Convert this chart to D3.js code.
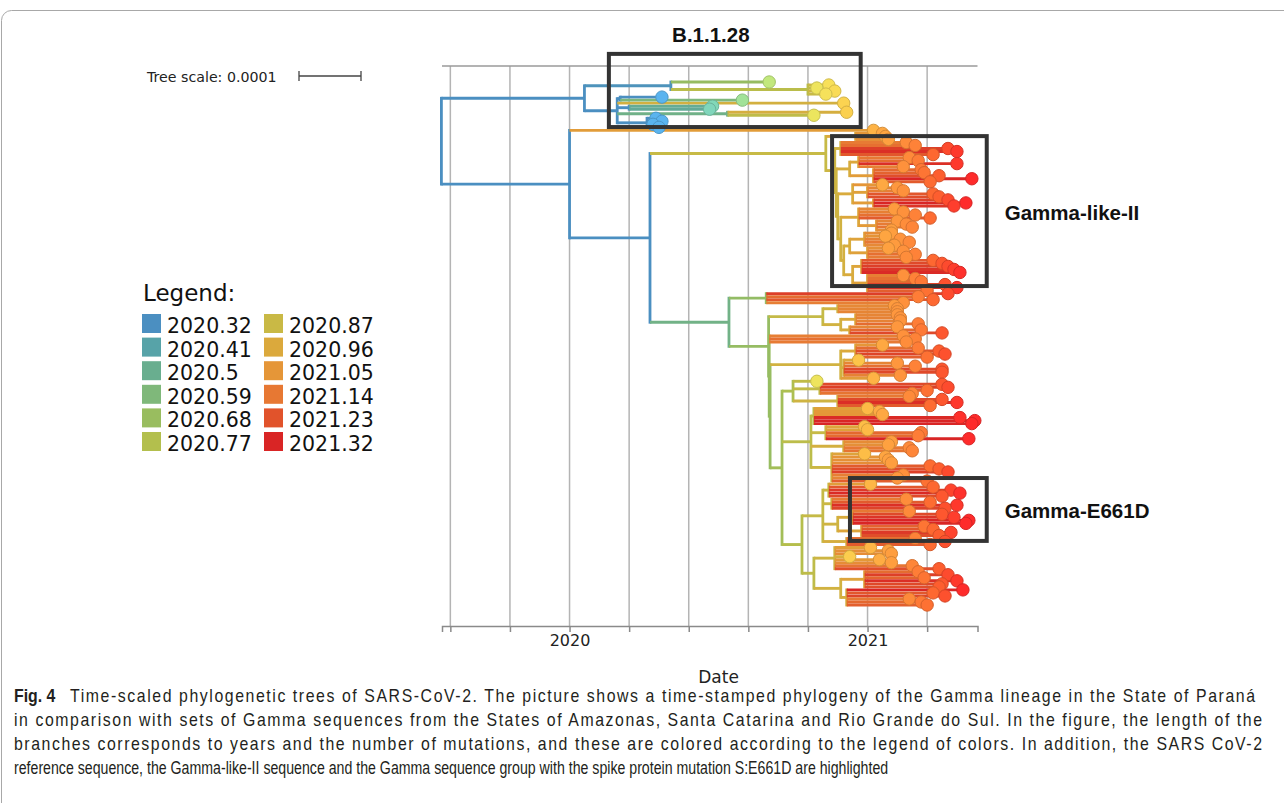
<!DOCTYPE html>
<html>
<head>
<meta charset="utf-8">
<script src="https://cdn.jsdelivr.net/npm/d3@7"></script>
<style>
body { margin: 0; background: #fff; }
svg { display: block; font-family: "DejaVu Sans", sans-serif; }
.caption { font-family: "Liberation Sans", Arial, sans-serif; font-size: 17.5px; fill: #231f20; }
</style>
</head>
<body>
<svg id="chart" width="1284" height="803"></svg>
<script>
// colour legend (dates and colours of the branches / tips)
var legendDates = [2020.32, 2020.41, 2020.5, 2020.59, 2020.68, 2020.77, 2020.87, 2020.96, 2021.05, 2021.14, 2021.23, 2021.32];
var branchColors = ["#4b8fc1", "#57a3a8", "#69ae8f", "#7fb87a", "#99bd5f", "#b3bf4d", "#c9b945", "#dba93c", "#e59638", "#e77833", "#e1532b", "#d92525"];
var tipColors = ["#5ab4ef", "#6fcad2", "#88dcb0", "#a4e396", "#c6e97a", "#e0ea62", "#f8e05a", "#fdc84a", "#fea842", "#fe8a3a", "#fd6430", "#fe2b2b"];

// time axis
var dateDomain = [2019.572, 2021.369];
var gridYears = [2019.6, 2019.8, 2020.0, 2020.2, 2020.4, 2020.6, 2020.8, 2021.0, 2021.2];
var labelYears = [2020, 2021];

// tree: a tip is its date, an internal node is [date, child, child, ...]
var cladeB11128 = [2020.05,
  [2020.34, 2020.67, [2020.80, 2020.87, 2020.83, 2020.89, 2020.86]],
  [2020.16,
    [2020.17, 2020.31, 2020.58],
    2020.92,
    [2020.20, 2020.48, 2020.47],
    [2020.53, 2020.93, 2020.82],
    [2020.26, 2020.29, 2020.31, 2020.28, 2020.30]]];

var gammaTop = [2020.96, 2021.05, 2021.06, 2021.07];
var gammaS1 = [2020.91, 2021.13, 2021.16, 2021.27, 2021.30, 2021.22];
var gammaS2 = [2020.94, [2020.97, 2021.14, 2021.17, 2021.30, 2021.12], [2021.02, 2021.18, 2021.19, 2021.24, 2021.35, 2021.21]];
var gammaS3 = [2020.95, 2021.05, [2021.0, 2021.10, 2021.12, 2021.22, 2021.24], [2021.02, 2021.27, 2021.33, 2021.29]];
var gammaS4 = [2020.97, 2021.09, 2021.12, 2021.16, 2021.21, [2021.03, 2021.10, 2021.13, 2021.15, 2021.08]];
var gammaS5 = [2020.94, [2020.99, 2021.08, 2021.06, 2021.11, 2021.14, 2021.09], [2021.0, 2021.07, 2021.12, 2021.16, 2021.13]];
var gammaS6 = [2020.95, [2020.98, 2021.22, 2021.25, 2021.27, 2021.29, 2021.31], [2021.0, 2021.12, 2021.16, 2021.18, 2021.26, 2021.30, 2021.20]];

var lowerB2b1 = [2020.66, 2021.27, 2021.17, 2021.22, 2021.12];
var lowerHa = [2020.85, [2020.9, 2021.09, 2021.10, 2021.10],
  [2020.91, [2020.96, 2021.10, 2021.11, 2021.11, 2021.17], [2020.94, 2021.10, 2021.18, 2021.25]]];
var lowerHb = [2021.12, 2021.16, 2021.13];
var lowerHc = [2020.91, [2020.96, 2021.05, 2021.17, 2021.24, 2021.26, 2021.20],
  [2020.92, 2020.97, 2021.10, 2021.16, 2021.25, 2021.25, 2021.11], 2021.02];
var lowerIa = [2020.75, 2020.83, [2020.84, 2021.25, 2021.27, 2021.20, 2021.15], [2020.90, 2021.14, 2021.25, 2021.30, 2021.21]];
var lowerIb = [2020.81,
  [2020.82, 2021.0, 2021.04, 2021.05, 2021.31, 2021.36, 2021.35],
  [2020.86, 2020.99, 2021.0, 2021.18, 2021.17, 2021.34],
  [2020.92, 2021.08, 2021.07, 2021.14, 2021.15],
  [2020.88, 2020.99, 2021.06, 2021.07, 2021.08, 2021.21, 2021.24, 2021.27, 2021.12, 2021.10, 2021.20]];
var cladeE661D = [2020.85,
  [2020.87, 2021.01, 2021.22, 2021.28, 2021.31, 2021.25],
  [2020.88, 2021.13, 2021.21, 2021.30, 2021.26],
  [2020.90, [2020.95, 2021.14, 2021.25, 2021.29, 2021.34, 2021.33], [2020.98, 2021.19, 2021.22, 2021.28, 2021.24]],
  [2020.93, 2021.16, 2021.26, 2021.21]];
var lowerLow = [2020.82,
  [2020.89, 2021.01, 2021.07, 2021.08, 2020.94, 2021.04, 2021.08, 2021.15, 2021.24],
  [2020.91, [2020.99, 2021.17, 2021.27, 2021.19, 2021.30, 2021.25, 2021.24], [2020.93, 2021.32, 2021.22, 2021.26, 2021.14, 2021.18, 2021.20]]];

// highlighted groups: date range and leaf index range
var boxNames = ["B.1.1.28", "Gamma-like-II", "Gamma-E661D"];
var boxDates = [[2020.132, 2020.977], [2020.881, 2021.400], [2020.941, 2021.400]];
var boxLeaves = [[-9.3, 14.9], [17.9, 67.5], [131.0, 151.8]];

var captionBold = "Fig. 4";
var captionLines = [
  "Time-scaled phylogenetic trees of SARS-CoV-2. The picture shows a time-stamped phylogeny of the Gamma lineage in the State of Paraná",
  "in comparison with sets of Gamma sequences from the States of Amazonas, Santa Catarina and Rio Grande do Sul. In the figure, the length of the",
  "branches corresponds to years and the number of mutations, and these are colored according to the legend of colors. In addition, the SARS CoV-2",
  "reference sequence, the Gamma-like-II sequence and the Gamma sequence group with the spike protein mutation S:E661D are highlighted"
];
var captionEnds = [1255, 1262, 1262, 889];

function buildTree() {
  var g5 = [2020.92, gammaS5, gammaS6];
  var g4 = [2020.91, gammaS4, g5];
  var g3 = [2020.90, gammaS3, g4];
  var g2 = [2020.895, gammaS2, g3];
  var g1 = [2020.89, gammaS1, g2];
  var g0 = [2020.86, gammaTop, g1];

  var h3 = [2020.78, cladeE661D, lowerLow];
  var h2 = [2020.713, lowerIa, lowerIb, h3];
  var h1b = [2020.673, lowerHc, h2];
  var h1 = [2020.67].concat(lowerHb, [h1b]);
  var h0 = [2020.668, lowerHa, h1];

  var b2b = [2020.535, lowerB2b1, h0];
  var b2 = [2020.27, g0, b2b];
  var b = [2020.0, 2021.02, b2];
  return [2019.57, cladeB11128, b];
}

function main() {
  var svg = d3.select("#chart");

  // figure frame
  svg.append("rect")
    .attr("x", 1.5).attr("y", 10.5)
    .attr("width", 1340).attr("height", 830)
    .attr("rx", 10)
    .attr("fill", "none")
    .attr("stroke", "#a8a8a8");

  var x = d3.scaleLinear().domain(dateDomain).range([442, 977.5]);
  var top = 66, bottom = 626;

  var branchColor = d3.scaleLinear().domain(legendDates).range(branchColors).clamp(true);
  var tipColor = d3.scaleLinear().domain(legendDates).range(tipColors).clamp(true);

  // grid
  svg.append("g").selectAll("line")
    .data(gridYears)
    .enter().append("line")
    .attr("x1", function(d) { return x(d); })
    .attr("x2", function(d) { return x(d); })
    .attr("y1", top).attr("y2", bottom)
    .attr("stroke", "#b4b4b4")
    .attr("stroke-width", 1.5);

  svg.append("line")
    .attr("x1", x(dateDomain[0])).attr("x2", x(dateDomain[1]))
    .attr("y1", top).attr("y2", top)
    .attr("stroke", "#9a9a9a").attr("stroke-width", 1.5);

  // axis
  var axis = d3.axisBottom(x)
    .tickValues(gridYears)
    .tickSize(6)
    .tickSizeOuter(6)
    .tickFormat(function(d) {
      var hit = labelYears.filter(function(v) { return Math.abs(v - d) < 1e-6; });
      return hit.length ? String(hit[0]) : "";
    });
  var ax = svg.append("g")
    .attr("transform", "translate(0," + bottom + ")")
    .call(axis);
  ax.select(".domain").attr("stroke", "#8a8a8a").attr("stroke-width", 1.5);
  ax.selectAll(".tick line").attr("stroke", "#8a8a8a").attr("stroke-width", 1.5);
  ax.selectAll(".tick text")
    .attr("fill", "#222")
    .style("font-family", "DejaVu Sans, sans-serif")
    .style("font-size", "16px");

  svg.append("text")
    .attr("x", x(2020.5)).attr("y", 683)
    .attr("text-anchor", "middle")
    .style("font-size", "17px")
    .attr("fill", "#222")
    .text("Date");

  // tree layout
  var root = d3.hierarchy(buildTree(), function(d) { return Array.isArray(d) ? d.slice(1) : null; });
  root.each(function(n) { n.date = Array.isArray(n.data) ? n.data[0] : n.data; });
  var leaves = root.leaves();
  var y = d3.scaleLinear().domain([0, 173]).range([82, 605]);
  leaves.forEach(function(l, i) { l.py = y(i); });
  root.eachAfter(function(n) {
    if (n.children) n.py = (n.children[0].py + n.children[n.children.length - 1].py) / 2;
  });

  var tree = svg.append("g").attr("class", "tree");
  var nodes = root.descendants();

  tree.selectAll("line.v")
    .data(nodes.filter(function(n) { return n.children; }))
    .enter().append("line")
    .attr("class", "v")
    .attr("x1", function(n) { return x(n.date); })
    .attr("x2", function(n) { return x(n.date); })
    .attr("y1", function(n) { return n.children[0].py; })
    .attr("y2", function(n) { return n.children[n.children.length - 1].py; })
    .attr("stroke", function(n) { return branchColor(n.date); })
    .attr("stroke-width", 2.8)
    .attr("stroke-linecap", "square");

  tree.selectAll("line.h")
    .data(nodes.filter(function(n) { return n.parent; }))
    .enter().append("line")
    .attr("class", "h")
    .attr("x1", function(n) { return x(n.parent.date); })
    .attr("x2", function(n) { return x(n.date); })
    .attr("y1", function(n) { return n.py; })
    .attr("y2", function(n) { return n.py; })
    .attr("stroke", function(n) { return branchColor(n.date); })
    .attr("stroke-width", 2.9);

  tree.selectAll("circle")
    .data(leaves)
    .enter().append("circle")
    .attr("cx", function(n) { return x(n.date); })
    .attr("cy", function(n) { return n.py; })
    .attr("r", 6.2)
    .attr("fill", function(n) { return tipColor(n.date); })
    .attr("stroke", function(n) { return d3.color(tipColor(n.date)).darker(0.5); })
    .attr("stroke-width", 1);

  // highlight boxes
  boxNames.forEach(function(name, i) {
    var x0 = x(boxDates[i][0]), x1 = x(boxDates[i][1]);
    var y0 = y(boxLeaves[i][0]), y1 = y(boxLeaves[i][1]);
    svg.append("rect")
      .attr("x", x0).attr("y", y0)
      .attr("width", x1 - x0).attr("height", y1 - y0)
      .attr("fill", "none")
      .attr("stroke", "#333")
      .attr("stroke-width", 4);
    var t = svg.append("text")
      .style("font-family", "Liberation Sans, Arial, sans-serif")
      .style("font-weight", "bold")
      .style("font-size", "20.5px")
      .attr("fill", "#111")
      .text(name);
    if (i === 0) {
      t.attr("x", x0 + (x1 - x0) * 0.405).attr("y", y0 - 12).attr("text-anchor", "middle");
    } else {
      t.attr("x", x1 + 18).attr("y", (y0 + y1) / 2 + 9);
    }
  });

  // tree scale
  svg.append("text")
    .attr("x", 147).attr("y", 82)
    .style("font-size", "14.2px")
    .attr("fill", "#222")
    .text("Tree scale: 0.0001");
  var sb = svg.append("g").attr("stroke", "#444").attr("stroke-width", 1.3);
  sb.append("line").attr("x1", 299).attr("x2", 361).attr("y1", 76).attr("y2", 76);
  sb.append("line").attr("x1", 299).attr("x2", 299).attr("y1", 71).attr("y2", 81);
  sb.append("line").attr("x1", 361).attr("x2", 361).attr("y1", 71).attr("y2", 81);

  // legend
  var lg = svg.append("g");
  lg.append("text")
    .attr("x", 143).attr("y", 301)
    .style("font-size", "23px")
    .attr("fill", "#111")
    .text("Legend:");
  var items = lg.selectAll("g.item")
    .data(legendDates)
    .enter().append("g")
    .attr("class", "item")
    .attr("transform", function(d, i) {
      return "translate(" + (i < 6 ? 142 : 264) + "," + (314 + (i % 6) * 23.6) + ")";
    });
  items.append("rect")
    .attr("width", 19).attr("height", 19)
    .attr("fill", function(d, i) { return branchColors[i]; });
  items.append("text")
    .attr("x", 25).attr("y", 19)
    .style("font-size", "20.5px")
    .attr("fill", "#111")
    .text(function(d) { return String(d); });

  // caption: condensed glyphs, first three lines justified to full width
  var cap = svg.append("g");
  var probe = cap.append("text").attr("class", "caption").text(captionLines[3]);
  var k = (captionEnds[3] - 14) / probe.node().getComputedTextLength();
  probe.remove();
  var kWide = k * 1.12;

  var fig = cap.append("g").attr("transform", "translate(14,702) scale(" + kWide + ",1)");
  fig.append("text").attr("class", "caption").style("font-weight", "bold").text(captionBold);

  captionLines.forEach(function(line, i) {
    var x0 = i === 0 ? 70 : 14;
    var kk = i < 3 ? kWide : k;
    var gl = cap.append("g").attr("transform", "translate(" + x0 + "," + (702 + i * 24) + ") scale(" + kk + ",1)");
    var t = gl.append("text").attr("class", "caption").text(line);
    if (i < 3) {
      t.attr("textLength", (captionEnds[i] - x0) / kk).attr("lengthAdjust", "spacing");
    }
  });
}

main();
</script>
</body>
</html>
